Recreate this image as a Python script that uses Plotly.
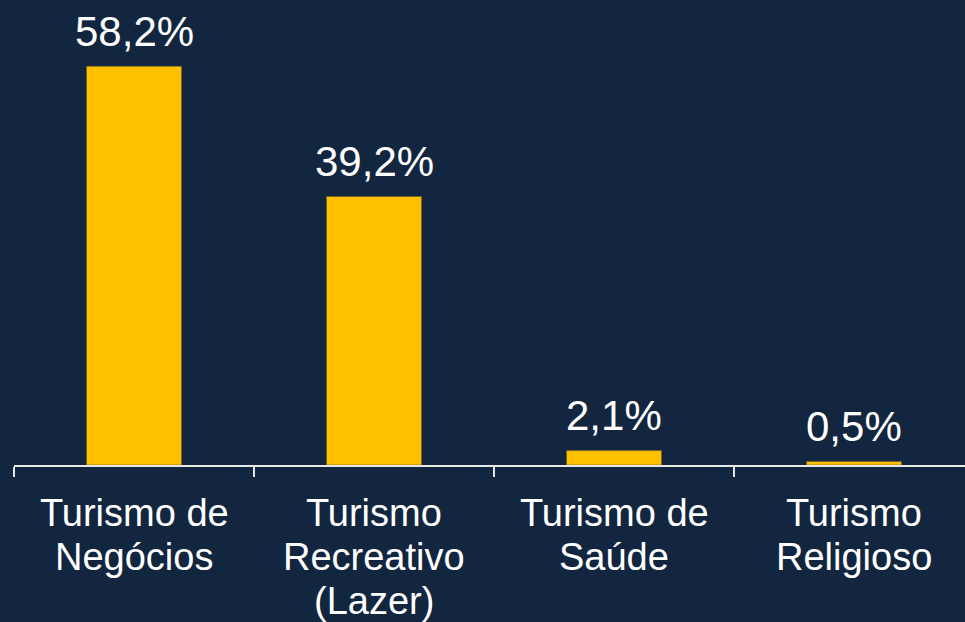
import plotly.graph_objects as go

categories = ["Turismo de<br>Negócios", "Turismo<br>Recreativo<br>(Lazer)", "Turismo de<br>Saúde", "Turismo<br>Religioso"]
values = [58.2, 39.2, 2.1, 0.5]
value_labels = ["58,2%", "39,2%", "2,1%", "0,5%"]

BG = "#12263f"
BAR = "#FFC000"
FONT = "Liberation Sans, Arial, sans-serif"

xs = list(range(len(categories)))

fig = go.Figure()
fig.add_trace(go.Bar(
    x=xs, y=values, width=0.396,
    marker=dict(color=BAR, line=dict(color="#6b5a2a", width=0.6)),
    hoverinfo="skip",
))

annotations = []
for x, v, lab in zip(xs, values, value_labels):
    annotations.append(dict(
        x=x, y=v, xref="x", yref="y", text=lab, showarrow=False,
        yanchor="middle", yshift=35,
        font=dict(family=FONT, size=42, color="white"),
    ))
for x, cat in zip(xs, categories):
    for i, line in enumerate(cat.split("<br>")):
        annotations.append(dict(
            x=x, y=0, xref="x", yref="paper", text=line, showarrow=False,
            yanchor="middle", yshift=-48 - 44 * i,
            font=dict(family=FONT, size=38, color="white"),
        ))

fig.update_layout(
    width=965, height=622,
    paper_bgcolor=BG, plot_bgcolor=BG,
    margin=dict(l=14, r=0, t=0, b=157),
    showlegend=False,
    annotations=annotations,
    xaxis=dict(
        range=[-0.5, -0.5 + 951 / 240], showgrid=False, zeroline=False,
        showline=True, linecolor="#e8e8e8", linewidth=2,
        tickmode="array", tickvals=[-0.5, 0.5, 1.5, 2.5, 3.5], ticktext=["", "", "", "", ""],
        ticks="outside", ticklen=10, tickwidth=2, tickcolor="#e8e8e8",
        fixedrange=True,
    ),
    yaxis=dict(
        range=[0, 465 / 6.85], showgrid=False, zeroline=False, showline=False,
        showticklabels=False, fixedrange=True,
    ),
)

fig.write_html(
    "out.html",
    config={"displayModeBar": False},
    post_script="document.body.style.margin='0';document.body.style.overflow='hidden';document.body.style.background='#12263f';",
)
